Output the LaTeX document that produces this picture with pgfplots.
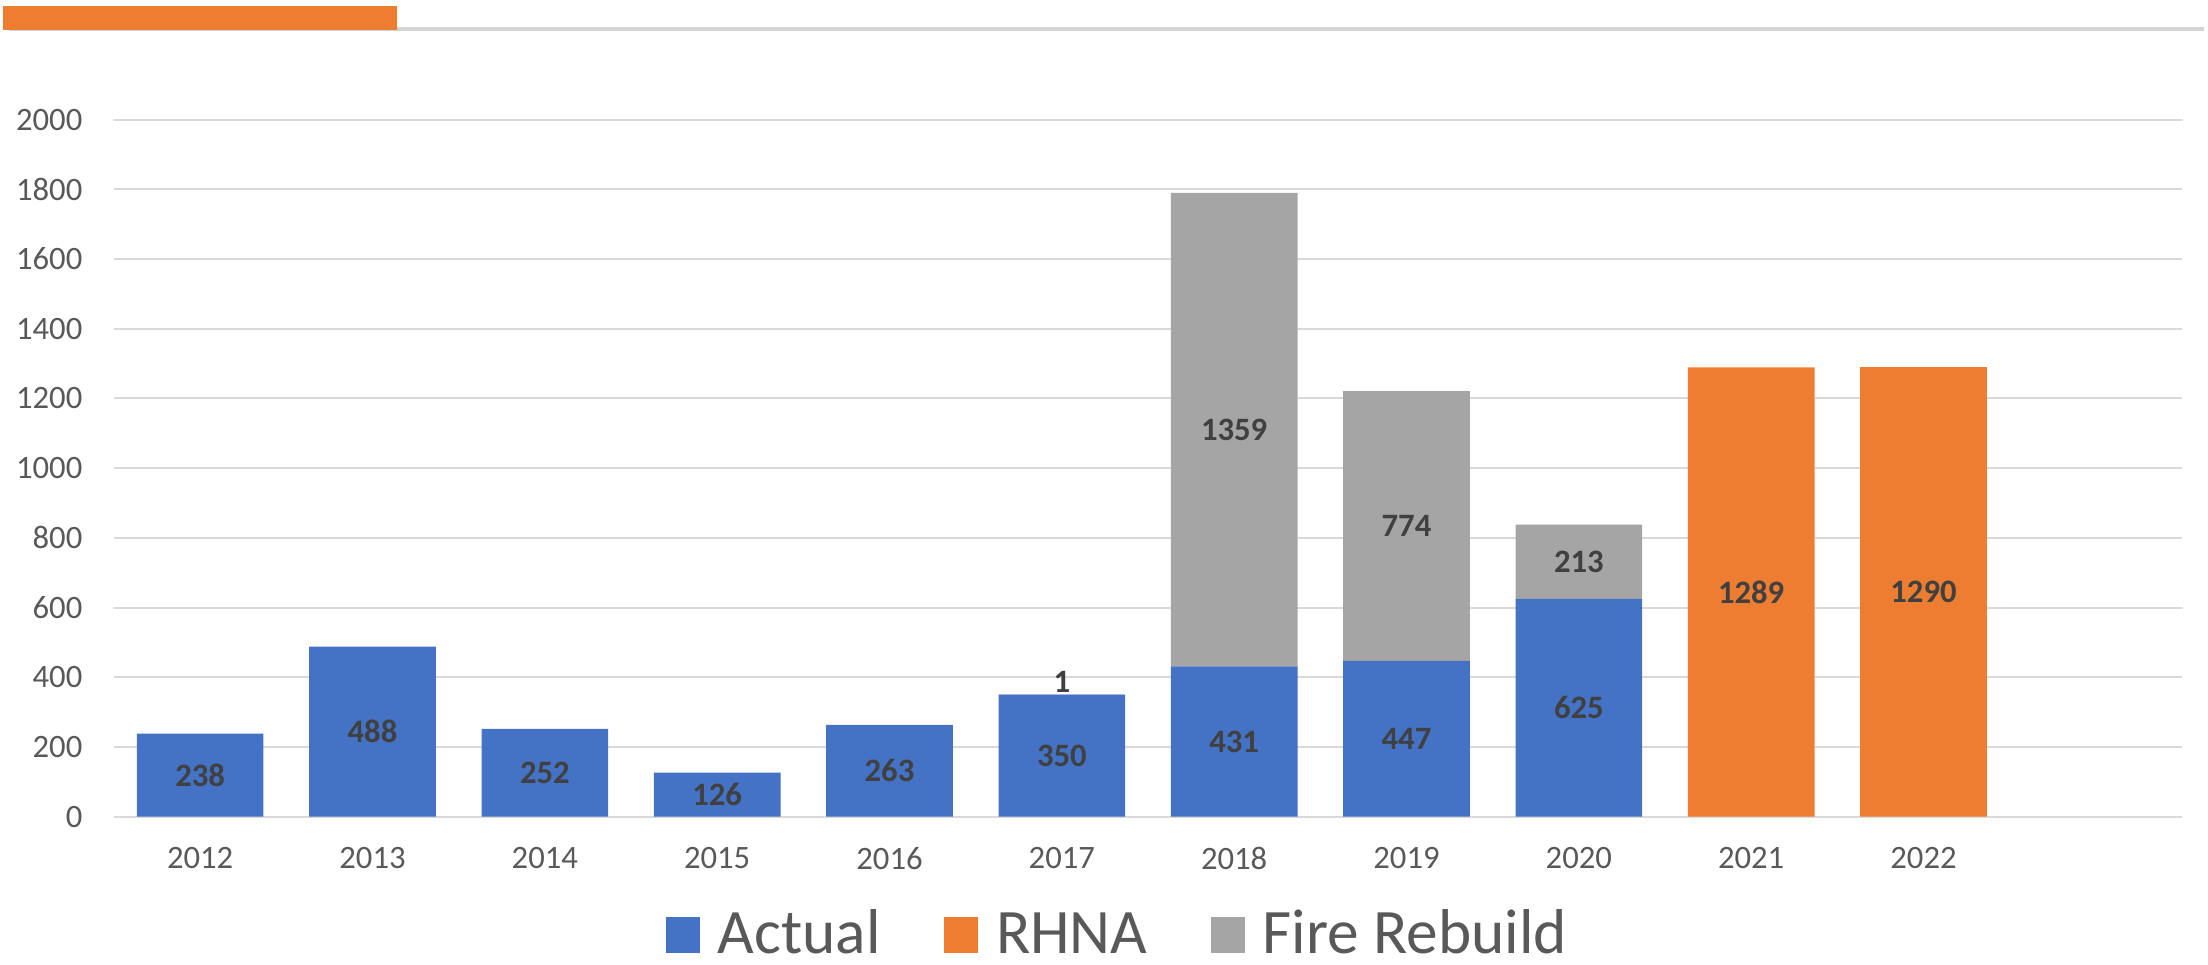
\documentclass[border=0pt]{standalone}
\usepackage{fontspec}
\setmainfont{Carlito}
\usepackage{pgfplots}
\pgfplotsset{compat=1.18}
\definecolor{cblue}{HTML}{4472C4}
\definecolor{corange}{HTML}{ED7D31}
\definecolor{cgray}{HTML}{A5A5A5}
\definecolor{ctext}{HTML}{595959}
\definecolor{clabel}{HTML}{404040}
\definecolor{cgrid}{HTML}{D9D9D9}
\definecolor{ctopline}{HTML}{D4D4D4}
\pgfplotsset{
  legsq/.style={legend image code/.code={\fill[##1] (0pt,0pt) rectangle (10.2pt,10.8pt);}},
}
\begin{document}
\begin{tikzpicture}
\useasboundingbox (0,0) rectangle (662.4pt,289.5pt);
\fill[ctopline] (2.7pt,280.2pt) rectangle (661.2pt,281.4pt);
\fill[corange] (0.9pt,280.5pt) rectangle (119.1pt,287.7pt);
\begin{axis}[
  at={(34.2pt,44.52pt)}, anchor=south west,
  scale only axis, width=620.4pt, height=209.1pt,
  xmin=-0.5, xmax=11.5, ymin=0, ymax=2000,
  ybar stacked, bar width=0.735,
  axis line style={draw=none},
  major tick style={draw=none},
  ymajorgrids, grid style={cgrid, line width=0.6pt},
  ytick={0,200,...,2000},
  xtick={0,1,2,3,4,5,6,7,8,9,10},
  xticklabels={2012,2013,2014,2015,2016,2017,2018,2019,2020,2021,2022},
  tick label style={font=\fontsize{9.8}{12}\selectfont, text=ctext},
  /pgf/number format/assume math mode=true,
  /pgf/number format/1000 sep={},
  yticklabel style={anchor=east, inner sep=0pt, xshift=-9.3pt},
  xticklabel style={anchor=north, inner sep=0pt, yshift=-9pt},
  clip=false,
  legend columns=3,
  legend style={
    at={(0.2669,-0.2030)}, anchor=south west,
    draw=none, fill=none, inner sep=0pt, outer sep=0pt,
    font=\fontsize{19}{23}\selectfont, text=ctext,
    nodes={inner sep=0pt, outer sep=0pt, anchor=base west},
    /tikz/every odd column/.append style={column sep=5.4pt},
    /tikz/every even column/.append style={column sep=19pt},
  },
]
\addplot[fill=cblue, draw=none, legsq] coordinates {(0,238) (1,488) (2,252) (3,126) (4,263) (5,350) (6,431) (7,447) (8,625) (9,0) (10,0)};
\addlegendentry{Actual}
\addplot[fill=corange, draw=none, legsq] coordinates {(0,0) (1,0) (2,0) (3,0) (4,0) (5,0) (6,0) (7,0) (8,0) (9,1289) (10,1290)};
\addlegendentry{RHNA}
\addplot[fill=cgray, draw=none, legsq] coordinates {(0,0) (1,0) (2,0) (3,0) (4,0) (5,1) (6,1359) (7,774) (8,213) (9,0) (10,0)};
\addlegendentry{Fire Rebuild}
\end{axis}
\begin{axis}[
  at={(34.2pt,44.52pt)}, anchor=south west,
  scale only axis, width=620.4pt, height=209.1pt,
  xmin=-0.5, xmax=11.5, ymin=0, ymax=2000,
  hide axis, clip=false,
]
\addplot[draw=none, mark=none, nodes near coords, point meta=explicit symbolic,
  every node near coord/.style={anchor=center, inner sep=0pt, font=\bfseries\fontsize{9.8}{12}\selectfont, text=clabel}]
  coordinates {
  (0,119)[238] (1,244)[488] (2,126)[252] (3,63)[126] (4,131.5)[263] (5,175)[350]
  (6,215.5)[431] (7,223.5)[447] (8,312.5)[625]
  (5,386)[1] (6,1110.5)[1359] (7,834)[774] (8,731.5)[213]
  (9,644.5)[1289] (10,645)[1290]
  };
\end{axis}
\end{tikzpicture}
\end{document}
